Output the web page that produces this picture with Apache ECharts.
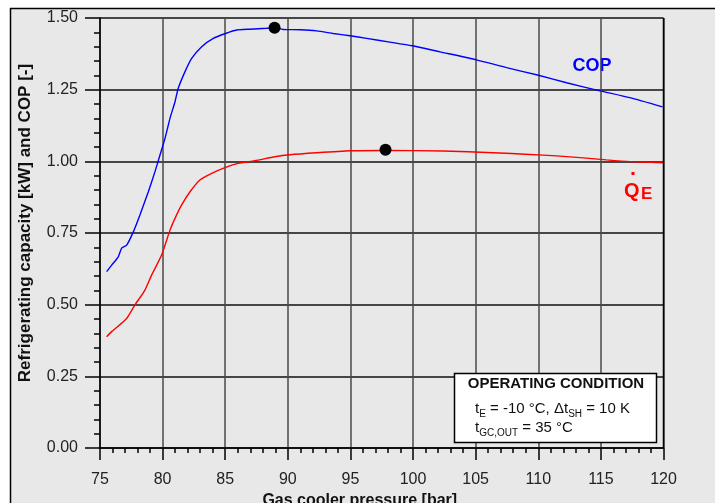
<!DOCTYPE html>
<html>
<head>
<meta charset="utf-8">
<script src="https://cdn.jsdelivr.net/npm/echarts@6/dist/echarts.min.js"></script>
<style>html,body{margin:0;padding:0;background:#fff;}#c{width:715px;height:503px;}</style>
</head>
<body>
<div id="c"></div>
<script>
// Gas cooler pressure [bar] and COP
const copP = [75.53, 75.93, 76.46, 76.73, 77.13, 77.66, 78.19, 78.86, 79.39, 79.79, 80.19, 80.59, 80.99, 81.25, 81.79, 82.32, 83.12, 84.05, 85.03, 85.91, 86.97, 88.3, 88.94, 89.63, 90.97, 92.3, 93.63, 94.96, 96.29, 98.15, 99.93, 102.14, 104.99, 107.47, 109.94, 112.26, 114.92, 117.31, 119.92];
const copV = [0.615, 0.638, 0.667, 0.697, 0.708, 0.754, 0.813, 0.894, 0.964, 1.022, 1.080, 1.150, 1.208, 1.255, 1.313, 1.359, 1.400, 1.429, 1.446, 1.458, 1.461, 1.464, 1.466, 1.460, 1.459, 1.455, 1.446, 1.438, 1.429, 1.416, 1.403, 1.382, 1.355, 1.327, 1.301, 1.274, 1.246, 1.222, 1.190];
// Refrigerating capacity Q_E [kW]
const qeP = [75.53, 75.93, 77.13, 77.79, 78.59, 79.12, 79.92, 80.59, 80.99, 81.52, 82.19, 82.98, 83.92, 85.03, 86.04, 87.37, 88.97, 90.17, 92.3, 94.96, 97.8, 102.4, 106.4, 109.33, 111.46, 113.59, 115.45, 117.31, 119.97];
const qeV = [0.388, 0.406, 0.452, 0.499, 0.551, 0.603, 0.673, 0.760, 0.801, 0.848, 0.894, 0.935, 0.958, 0.979, 0.993, 1.002, 1.016, 1.023, 1.030, 1.037, 1.038, 1.036, 1.030, 1.024, 1.019, 1.012, 1.005, 0.999, 0.995];
// maxima markers
const maxP = [88.94, 97.8];
const maxV = [1.466, 1.040];

const xTicks = [75, 80, 85, 90, 95, 100, 105, 110, 115, 120];
const yTicks = [0.00, 0.25, 0.50, 0.75, 1.00, 1.25, 1.50];

const zip = (a, b) => a.map((v, i) => [v, b[i]]);
const FONT = "'Liberation Sans', Arial, sans-serif";

const chart = echarts.init(document.getElementById('c'), null, {renderer: 'canvas'});
chart.setOption({
  backgroundColor: '#e8e8e8',
  animation: false,
  grid: {left: 100, top: 18, right: 51.5, bottom: 55, show: false, containLabel: false, outerBoundsMode: 'none'},
  xAxis: {
    type: 'value', min: xTicks[0], max: xTicks[xTicks.length - 1], interval: 5,
    name: 'Gas cooler pressure [bar]', nameLocation: 'middle', nameGap: 40,
    nameTextStyle: {fontFamily: FONT, fontSize: 16, fontWeight: 'bold', color: '#111', padding: [0, 44, 0, 0]},
    axisLine: {show: true, lineStyle: {color: '#000', width: 1.5}},
    axisTick: {show: true, length: 12, lineStyle: {color: '#000', width: 1.5}},
    minorTick: {show: true, splitNumber: 5, length: 5, lineStyle: {color: '#000', width: 1.5}},
    axisLabel: {fontFamily: FONT, fontSize: 16, color: '#222', margin: 24},
    splitLine: {show: true, lineStyle: {color: '#4a4a4a', width: 1.5}}
  },
  yAxis: {
    type: 'value', min: yTicks[0], max: yTicks[yTicks.length - 1], interval: 0.25,
    axisLine: {show: true, lineStyle: {color: '#000', width: 1.5}},
    axisTick: {show: true, length: 15, lineStyle: {color: '#000', width: 1.5}},
    minorTick: {show: true, splitNumber: 5, length: 6, lineStyle: {color: '#000', width: 1.5}},
    axisLabel: {fontFamily: FONT, fontSize: 16, color: '#222', margin: 22, formatter: v => v.toFixed(2)},
    splitLine: {show: true, lineStyle: {color: '#111', width: 1.5}}
  },
  series: [
    {type: 'line', name: 'COP', data: zip(copP, copV), showSymbol: false, smooth: 0.2,
     lineStyle: {color: '#0000ff', width: 1.4}, z: 3},
    {type: 'line', name: 'QE', data: zip(qeP, qeV), showSymbol: false, smooth: 0.2,
     lineStyle: {color: '#ff0000', width: 1.4}, z: 3},
    {type: 'scatter', name: 'max', data: zip(maxP, maxV), symbol: 'circle', symbolSize: 12,
     itemStyle: {color: '#000', opacity: 1}, z: 5}
  ],
  graphic: [
    {type: 'rect', shape: {x: 0, y: 0, width: 715, height: 8}, style: {fill: '#fff'}, silent: true},
    {type: 'rect', shape: {x: 0, y: 0, width: 10, height: 503}, style: {fill: '#fff'}, silent: true},
    {type: 'line', shape: {x1: 10, y1: 8.5, x2: 715, y2: 8.5}, style: {stroke: '#000', lineWidth: 1.5}},
    {type: 'line', shape: {x1: 10.5, y1: 8, x2: 10.5, y2: 503}, style: {stroke: '#000', lineWidth: 1.5}},
    // y axis title
    {type: 'text', x: 25, y: 223, rotation: Math.PI / 2, style: {text: 'Refrigerating capacity [kW] and COP [-]', font: "bold 17px " + FONT, fill: '#111', align: 'center', verticalAlign: 'middle'}},
    // right frame
    {type: 'line', shape: {x1: 663.5, y1: 18, x2: 663.5, y2: 448}, style: {stroke: '#000', lineWidth: 1.5}, z: 4},
    {type: 'text', x: 592, y: 66, style: {text: 'COP', fill: '#0000ff', font: "bold 18px " + FONT, align: 'center', verticalAlign: 'middle'}},
    {type: 'text', x: 624, y: 181, style: {text: 'Q', fill: '#ff0000', font: "bold 20px " + FONT, align: 'left', verticalAlign: 'top'}},
    {type: 'text', x: 641, y: 186, style: {text: 'E', fill: '#ff0000', font: "bold 17px " + FONT, align: 'left', verticalAlign: 'top'}},
    {type: 'rect', shape: {x: 631.5, y: 172, width: 3, height: 3}, style: {fill: '#ff0000'}},
    // operating condition box
    {type: 'rect', z: 10, shape: {x: 454.5, y: 373.5, width: 202, height: 69}, style: {fill: '#fff', stroke: '#000', lineWidth: 1.5}},
    {type: 'text', z: 11, x: 556, y: 384, style: {text: 'OPERATING CONDITION', font: "bold 15px " + FONT, fill: '#111', align: 'center', verticalAlign: 'middle'}},
    {type: 'text', z: 11, x: 475, y: 410, style: {
      text: '{m|t}{s|E}{m| = -10 °C, Δt}{s|SH}{m| = 10 K}', align: 'left', verticalAlign: 'middle',
      rich: {
        m: {font: "15px " + FONT, fill: '#111', lineHeight: 18, verticalAlign: 'top'},
        s: {font: "10px " + FONT, fill: '#111', lineHeight: 18, verticalAlign: 'bottom', padding: [8, 0, 0, 0]}
      }}},
    {type: 'text', z: 11, x: 475, y: 429, style: {
      text: '{m|t}{s|GC,OUT}{m| = 35 °C}', align: 'left', verticalAlign: 'middle',
      rich: {
        m: {font: "15px " + FONT, fill: '#111', lineHeight: 18, verticalAlign: 'top'},
        s: {font: "10px " + FONT, fill: '#111', lineHeight: 18, verticalAlign: 'bottom', padding: [8, 0, 0, 0]}
      }}}
  ]
});
</script>
</body>
</html>
